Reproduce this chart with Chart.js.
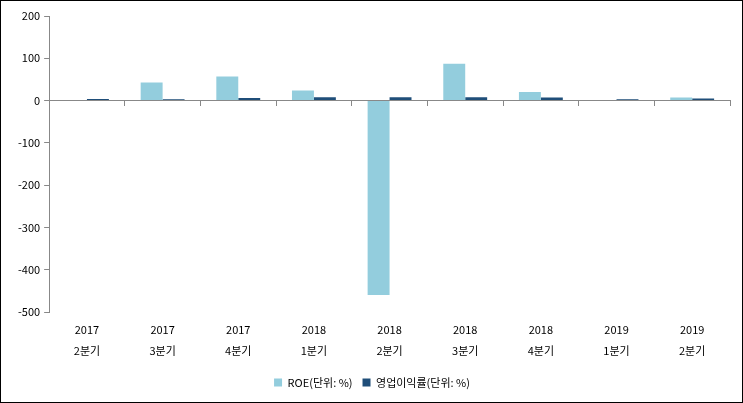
<!DOCTYPE html>
<html>
<head>
<meta charset="utf-8">
<script src="https://cdn.jsdelivr.net/npm/chart.js@4"></script>
<style>
  html, body { margin: 0; padding: 0; background: #fff; }
  #wrap { width: 741px; height: 401px; border: 1px solid #000; position: relative; }
</style>
</head>
<body>
<div id="wrap"><canvas id="chart"></canvas></div>
<script>
/* ===== data ===== */
const quarters = [
  ["2017", "2분기"], ["2017", "3분기"], ["2017", "4분기"],
  ["2018", "1분기"], ["2018", "2분기"], ["2018", "3분기"],
  ["2018", "4분기"], ["2019", "1분기"], ["2019", "2분기"]
];
const roe = [0, 43, 57, 24, -460, 87, 20, 0, 7];
const opMargin = [4, 3, 6, 8, 8, 8, 7, 3, 5];
const yTicks = [-500, -400, -300, -200, -100, 0, 100, 200];

const FONT = "'Noto Sans CJK KR', 'DejaVu Sans', sans-serif";
Chart.defaults.font.family = FONT;
Chart.defaults.font.size = 11;
Chart.defaults.color = "#000";

const ctx = document.getElementById("chart").getContext("2d");

new Chart(ctx, {
  type: "bar",
  data: {
    labels: quarters,
    datasets: [
      {
        label: "ROE(단위: %)",
        data: roe,
        backgroundColor: "#93CDDD",
        xAxisID: "x"
      },
      {
        label: "영업이익률(단위: %)",
        data: opMargin,
        backgroundColor: "#1F4E79",
        xAxisID: "x"
      }
    ]
  },
  options: {
    responsive: true,
    maintainAspectRatio: false,
    animation: false,
    layout: { padding: { left: 13, right: 12, top: 15, bottom: 4 } },
    datasets: {
      bar: { categoryPercentage: 0.58, barPercentage: 1.0 }
    },
    scales: {
      x: {
        type: "category",
        position: { y: 0 },
        offset: true,
        ticks: { display: false },
        grid: { offset: true, drawOnChartArea: false, tickLength: 5, color: "#888" },
        border: { color: "#888" }
      },
      x2: {
        type: "category",
        position: "bottom",
        labels: quarters,
        offset: true,
        grid: { display: false },
        border: { display: false },
        ticks: { maxRotation: 0, padding: 0, font: { size: 11, lineHeight: 1.85 } },
        afterFit: scale => { scale.height = 55; }
      },
      y: {
        min: -500,
        max: 200,
        afterBuildTicks: scale => { scale.ticks = yTicks.map(v => ({ value: v })); },
        grid: { drawOnChartArea: false, tickLength: 5, color: "#888" },
        border: { color: "#888" },
        ticks: { padding: 4 }
      }
    },
    plugins: {
      legend: {
        position: "bottom",
        labels: { boxWidth: 8, boxHeight: 8, padding: 10, font: { size: 11 } }
      },
      tooltip: { enabled: false }
    }
  }
});
</script>
</body>
</html>
